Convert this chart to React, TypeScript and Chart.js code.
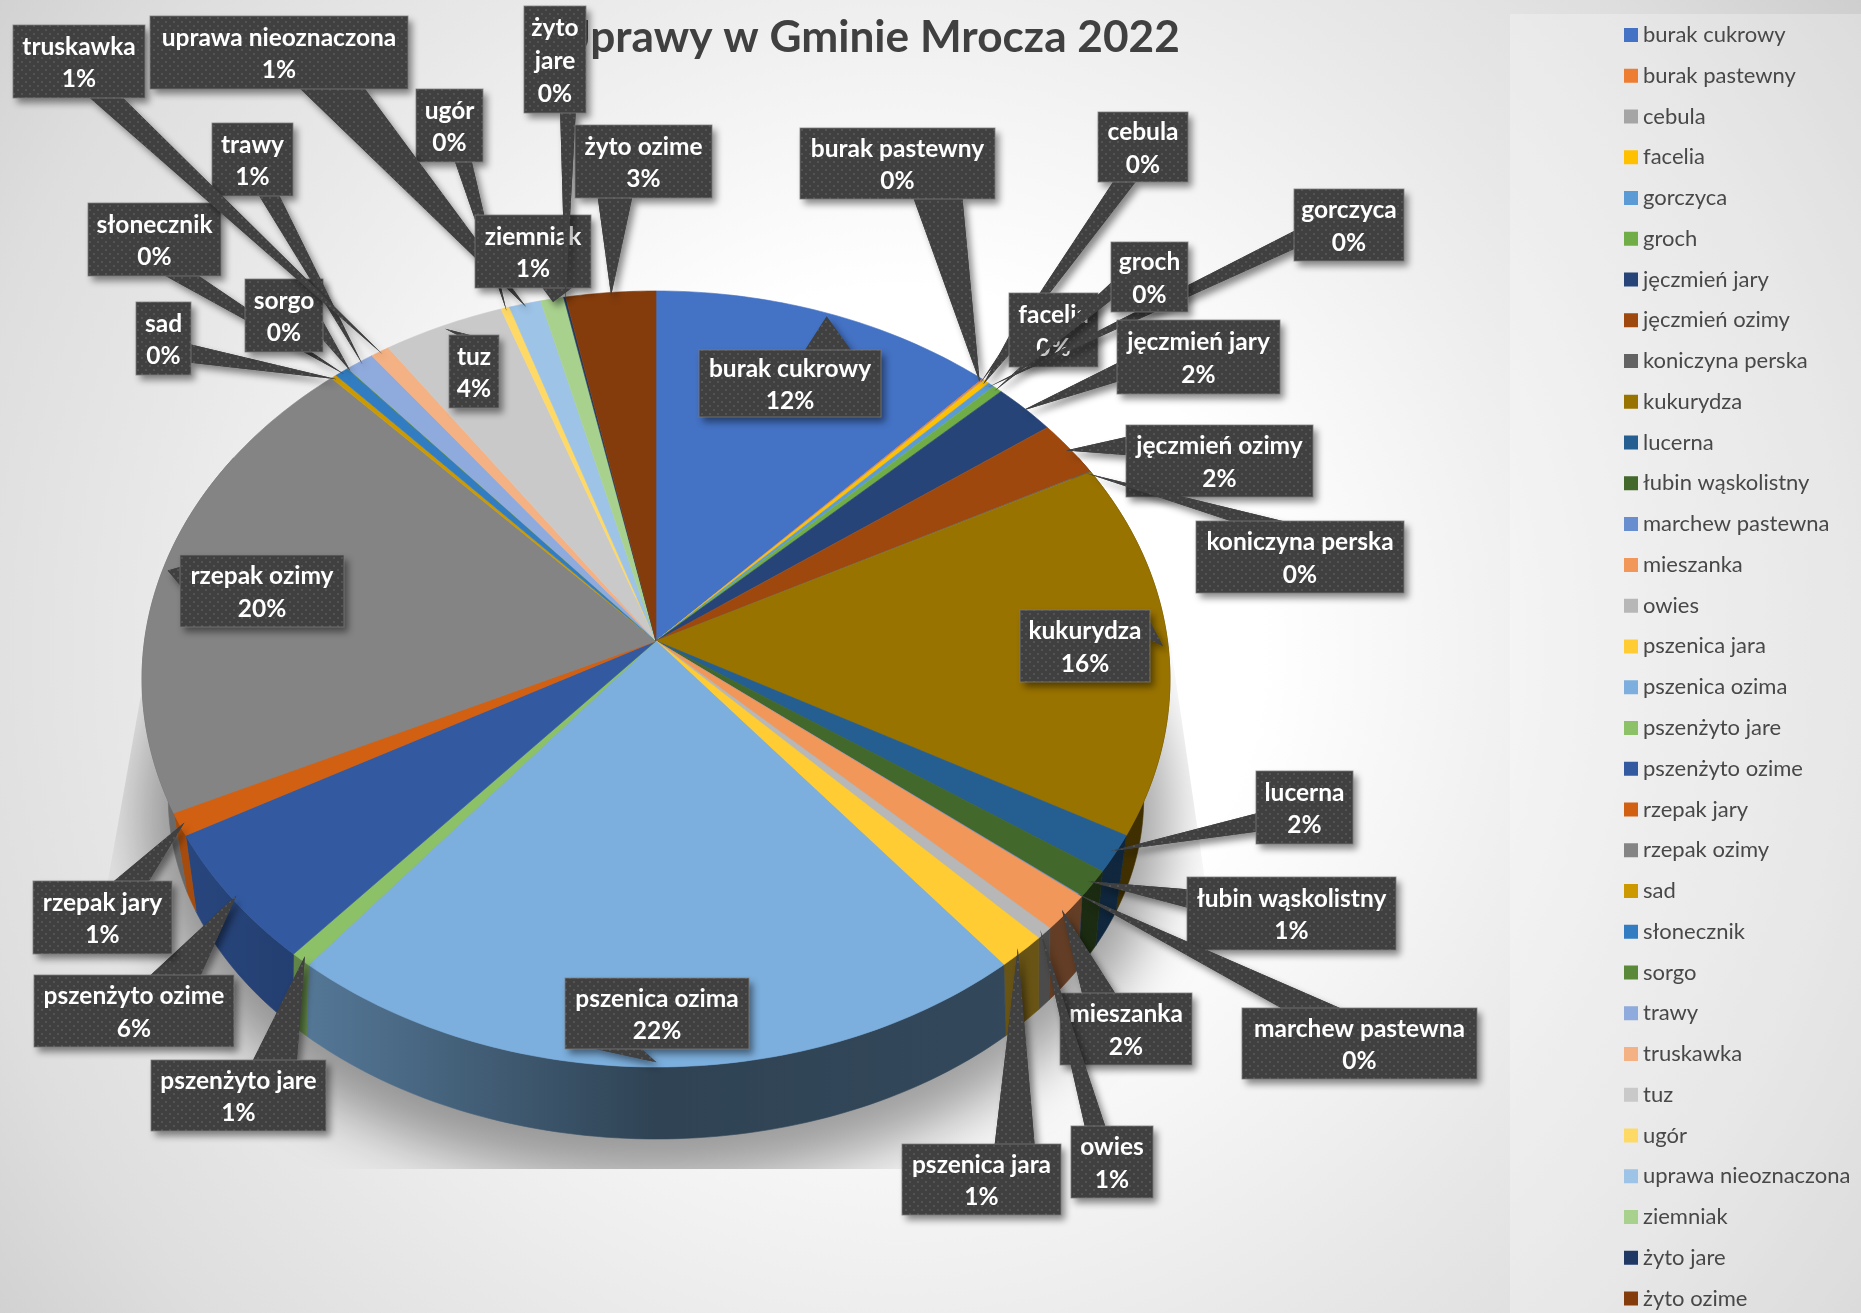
import React, { useEffect, useRef } from "react";
import { Chart, registerables, ArcElement } from "chart.js";

Chart.register(...registerables);

const FONT = "Lato, 'Noto Sans', sans-serif";

const categories = [
  "burak cukrowy", "burak pastewny", "cebula", "facelia", "gorczyca", "groch",
  "jęczmień jary", "jęczmień ozimy", "koniczyna perska", "kukurydza", "lucerna",
  "łubin wąskolistny", "marchew pastewna", "mieszanka", "owies", "pszenica jara",
  "pszenica ozima", "pszenżyto jare", "pszenżyto ozime", "rzepak jary", "rzepak ozimy",
  "sad", "słonecznik", "sorgo", "trawy", "truskawka", "tuz", "ugór",
  "uprawa nieoznaczona", "ziemniak", "żyto jare", "żyto ozime",
];

const shares = [
  11.97, 0.05, 0.03, 0.2, 0.22, 0.33, 2.2, 2.36, 0.04, 15.6, 1.57, 1.13, 0.03, 1.52,
  0.5, 1.43, 21.6, 0.6, 5.6, 0.95, 20.15, 0.2, 0.47, 0.03, 0.98, 0.65, 4.2, 0.3,
  1.1, 0.8, 0.07, 3.1,
];

const colors = [
  "#4472C4", "#ED7D31", "#A5A5A5", "#FFC000", "#5B9BD5", "#70AD47", "#264478", "#9E480E",
  "#636363", "#997300", "#255E91", "#43682B", "#698ED0", "#F1975A", "#B7B7B7", "#FFCD33",
  "#7CAFDD", "#8CC168", "#335AA1", "#D26012", "#848484", "#CC9A00", "#327DC2", "#5A8A39",
  "#8FAADC", "#F4B183", "#C9C9C9", "#FFD966", "#9DC3E6", "#A9D18E", "#203864", "#843C0C",
];

// Callout boxes [left, top, right, bottom], in page pixels, in category order.
const calloutBoxes = [
  [699, 350, 881, 417], [800, 128, 995, 199], [1098, 112, 1188, 182], [1009, 293, 1098, 367],
  [1294, 189, 1404, 261], [1111, 242, 1188, 312], [1117, 320, 1280, 394], [1126, 425, 1313, 497],
  [1196, 521, 1404, 593], [1020, 610, 1150, 682], [1256, 771, 1353, 844], [1187, 877, 1396, 950],
  [1242, 1008, 1477, 1079], [1060, 993, 1192, 1065], [1071, 1126, 1153, 1198], [902, 1144, 1061, 1215],
  [565, 978, 749, 1049], [151, 1060, 326, 1131], [34, 975, 234, 1047], [33, 881, 172, 954],
  [180, 555, 344, 627], [136, 302, 191, 375], [88, 203, 221, 276], [245, 279, 323, 352],
  [212, 123, 293, 196], [13, 25, 145, 98], [449, 335, 499, 408], [416, 89, 483, 162],
  [150, 16, 408, 89], [475, 215, 591, 288], [524, 6, 586, 113], [575, 125, 712, 198],
];

// Perspective of the pie: top disc and bottom disc.
const TOP = { cx: 656, cy: 641, rx: 511.5, ry: 384.3, p: 0.0979 };
const BOT = { cx: 656, cy: 738, rx: 480, ry: 330, p: 0.177 };

const project = (d: typeof TOP, t: number, r = 1) => {
  const u = r * Math.sin(t);
  const v = r * Math.cos(t);
  const w = 1 + d.p * v;
  return [d.cx + (d.rx * u) / w, d.cy - (d.ry * v) / w];
};

const fromTop = (a: number) => a + Math.PI / 2;

const arcPoints = (d: typeof TOP, a: number, b: number) => {
  const n = Math.max(2, Math.ceil(((b - a) * 180) / Math.PI));
  const pts: number[][] = [];
  for (let i = 0; i <= n; i++) pts.push(project(d, a + ((b - a) * i) / n));
  return pts;
};

const shade = (hex: string, f: number) => {
  const n = parseInt(hex.slice(1), 16);
  return `rgb(${Math.round(((n >> 16) & 255) * f)},${Math.round(((n >> 8) & 255) * f)},${Math.round((n & 255) * f)})`;
};

// Top faces: the library's arc elements, drawn through the perspective.
(ArcElement.prototype as any).draw = function (ctx: CanvasRenderingContext2D) {
  const a = fromTop(this.startAngle);
  const b = fromTop(this.endAngle);
  ctx.save();
  ctx.beginPath();
  ctx.moveTo(TOP.cx, TOP.cy);
  arcPoints(TOP, a, b).forEach(([x, y]) => ctx.lineTo(x, y));
  ctx.closePath();
  ctx.fillStyle = this.options.backgroundColor;
  ctx.strokeStyle = this.options.backgroundColor;
  ctx.lineWidth = 0.6;
  ctx.fill();
  ctx.stroke();
  ctx.restore();
};

const makePattern = (ctx: CanvasRenderingContext2D) => {
  const c = document.createElement("canvas");
  c.width = 8;
  c.height = 8;
  const g = c.getContext("2d")!;
  g.fillStyle = "#404040";
  g.fillRect(0, 0, 8, 8);
  g.fillStyle = "#535353";
  g.fillRect(1, 1, 2, 2);
  g.fillRect(5, 5, 2, 2);
  return ctx.createPattern(c, "repeat")!;
};

const calloutPath = (ctx: CanvasRenderingContext2D, box: number[], tip: number[]) => {
  const [l, t, r, b] = box;
  const w = r - l;
  const h = b - t;
  const dx = tip[0] - (l + r) / 2;
  const dy = tip[1] - (t + b) / 2;
  const xa = dx > 0 ? l + (w * 7) / 12 : l + (w * 2) / 12;
  const xb = dx > 0 ? l + (w * 10) / 12 : l + (w * 5) / 12;
  const ya = dy > 0 ? t + (h * 7) / 12 : t + (h * 2) / 12;
  const yb = dy > 0 ? t + (h * 10) / 12 : t + (h * 5) / 12;
  const vertical = Math.abs(dy) - Math.abs((dx * h) / w) > 0;
  ctx.beginPath();
  ctx.moveTo(l, t);
  if (vertical && dy < 0) { ctx.lineTo(xa, t); ctx.lineTo(tip[0], tip[1]); ctx.lineTo(xb, t); }
  ctx.lineTo(r, t);
  if (!vertical && dx > 0) { ctx.lineTo(r, ya); ctx.lineTo(tip[0], tip[1]); ctx.lineTo(r, yb); }
  ctx.lineTo(r, b);
  if (vertical && dy > 0) { ctx.lineTo(xb, b); ctx.lineTo(tip[0], tip[1]); ctx.lineTo(xa, b); }
  ctx.lineTo(l, b);
  if (!vertical && dx < 0) { ctx.lineTo(l, yb); ctx.lineTo(tip[0], tip[1]); ctx.lineTo(l, ya); }
  ctx.closePath();
};

const scenePlugin = {
  id: "scene",
  afterLayout(chart: any) {
    const l = chart.legend;
    if (l) {
      const pad = l.options.labels.padding;
      const width = l.right - l.left;
      l.left = 1630 - pad;
      l.right = l.left + width;
      l.top = 35 - 11 - pad;
    }
    const t = chart.titleBlock;
    if (t) {
      t.left = 0;
      t.right = 1738;
      t.top = 38 - t.height / 2;
      t.bottom = t.top + t.height;
    }
  },
  beforeDraw(chart: any) {
    const { ctx, width, height } = chart;
    ctx.save();
    const g = ctx.createRadialGradient(900, 650, 0, 900, 650, 1200);
    g.addColorStop(0, "#ffffff");
    g.addColorStop(0.3, "#ffffff");
    g.addColorStop(0.63, "#e8e8e8");
    g.addColorStop(0.8, "#dedede");
    g.addColorStop(1, "#cbcbcb");
    ctx.fillStyle = g;
    ctx.fillRect(0, 0, width, height);
    ctx.fillStyle = "rgba(255,255,255,0.28)";
    ctx.fillRect(1510, 14, width - 1510, height - 14);
    ctx.restore();
  },
  beforeDatasetsDraw(chart: any) {
    const { ctx } = chart;
    const arcs = chart.getDatasetMeta(0).data;
    // soft shadow under the pie, cut off by the plot rectangle
    ctx.save();
    ctx.beginPath();
    ctx.moveTo(165, 560);
    ctx.lineTo(108, 880);
    ctx.lineTo(108, 1169);
    ctx.lineTo(1210, 1169);
    ctx.lineTo(1205, 880);
    ctx.lineTo(1170, 640);
    ctx.closePath();
    ctx.clip();
    ctx.filter = "blur(30px)";
    ctx.fillStyle = "rgba(0,0,0,0.38)";
    ctx.beginPath();
    arcPoints({ ...BOT, rx: BOT.rx + 25, ry: BOT.ry + 25, cy: BOT.cy + 12 }, 0, Math.PI * 2).forEach(([x, y], i) =>
      i ? ctx.lineTo(x, y) : ctx.moveTo(x, y),
    );
    ctx.closePath();
    ctx.fill();
    ctx.restore();
    // outer walls
    const lo = (60 * Math.PI) / 180;
    const hi = (300 * Math.PI) / 180;
    arcs.forEach((arc: any, i: number) => {
      const a = Math.max(fromTop(arc.startAngle), lo);
      const b = Math.min(fromTop(arc.endAngle), hi);
      if (b <= a) return;
      const g = ctx.createLinearGradient(170, 0, 1170, 0);
      g.addColorStop(0, shade(colors[i], 0.8));
      g.addColorStop(0.486, shade(colors[i], 0.38));
      g.addColorStop(1, shade(colors[i], 0.42));
      ctx.save();
      ctx.beginPath();
      arcPoints(TOP, a, b).forEach(([x, y], k) => (k ? ctx.lineTo(x, y) : ctx.moveTo(x, y)));
      arcPoints(BOT, a, b).reverse().forEach(([x, y]) => ctx.lineTo(x, y));
      ctx.closePath();
      ctx.fillStyle = g;
      ctx.strokeStyle = g;
      ctx.lineWidth = 0.6;
      ctx.fill();
      ctx.stroke();
      ctx.restore();
    });
  },
  afterDatasetsDraw(chart: any) {
    const { ctx } = chart;
    const arcs = chart.getDatasetMeta(0).data;
    const total = shares.reduce((s, v) => s + v, 0);
    const pattern = makePattern(ctx);
    arcs.forEach((arc: any, i: number) => {
      const mid = fromTop((arc.startAngle + arc.endAngle) / 2);
      const tip = project(TOP, mid, 0.99);
      const box = calloutBoxes[i];
      ctx.save();
      ctx.save();
      ctx.shadowColor = "rgba(0,0,0,0.45)";
      ctx.shadowBlur = 7;
      ctx.shadowOffsetX = 4;
      ctx.shadowOffsetY = 5;
      calloutPath(ctx, box, tip);
      ctx.fillStyle = "#404040";
      ctx.fill();
      ctx.restore();
      calloutPath(ctx, box, tip);
      ctx.fillStyle = pattern;
      ctx.fill();
      ctx.strokeStyle = "rgba(127,127,127,0.75)";
      ctx.lineWidth = 1;
      ctx.strokeRect(box[0], box[1], box[2] - box[0], box[3] - box[1]);
      ctx.font = `bold 24.5px ${FONT}`;
      ctx.fillStyle = "#ffffff";
      ctx.textAlign = "center";
      ctx.textBaseline = "middle";
      const name = categories[i];
      const lines = ctx.measureText(name).width > box[2] - box[0] ? name.split(" ") : [name];
      lines.push(`${Math.round((shares[i] / total) * 100)}%`);
      const cx = (box[0] + box[2]) / 2;
      const cy = (box[1] + box[3]) / 2 + 1.5;
      lines.forEach((s, k) => ctx.fillText(s, cx, cy + (k - (lines.length - 1) / 2) * 32.6));
      ctx.restore();
    });
  },
};

export default function App() {
  const ref = useRef<HTMLCanvasElement>(null);
  useEffect(() => {
    document.body.style.margin = "0";
    const chart = new Chart(ref.current!, {
      type: "pie",
      data: {
        labels: categories,
        datasets: [{ data: shares, backgroundColor: colors, borderWidth: 0 }],
      },
      options: {
        responsive: false,
        animation: false,
        devicePixelRatio: 1,
        layout: { padding: 0 },
        plugins: {
          tooltip: { enabled: false },
          title: {
            display: true,
            text: "Uprawy w Gminie Mrocza 2022",
            color: "#404040",
            padding: 0,
            font: { family: FONT, size: 44.2, weight: "bold" },
          },
          legend: {
            position: "right",
            align: "start",
            labels: {
              color: "#484848",
              font: { family: FONT, size: 22 },
              boxWidth: 2,
              boxHeight: 2,
              padding: 18.76,
              generateLabels: (c: any) =>
                (Chart as any).overrides.doughnut.plugins.legend.labels
                  .generateLabels(c)
                  .map((it: any) => ({ ...it, strokeStyle: it.fillStyle, lineWidth: 12 })),
            },
          },
        },
      },
      plugins: [scenePlugin],
    } as any);
    return () => chart.destroy();
  }, []);
  return (
    <div style={{ width: 1861, height: 1313, overflow: "hidden" }}>
      <canvas ref={ref} width={1861} height={1420} style={{ display: "block" }} />
    </div>
  );
}
